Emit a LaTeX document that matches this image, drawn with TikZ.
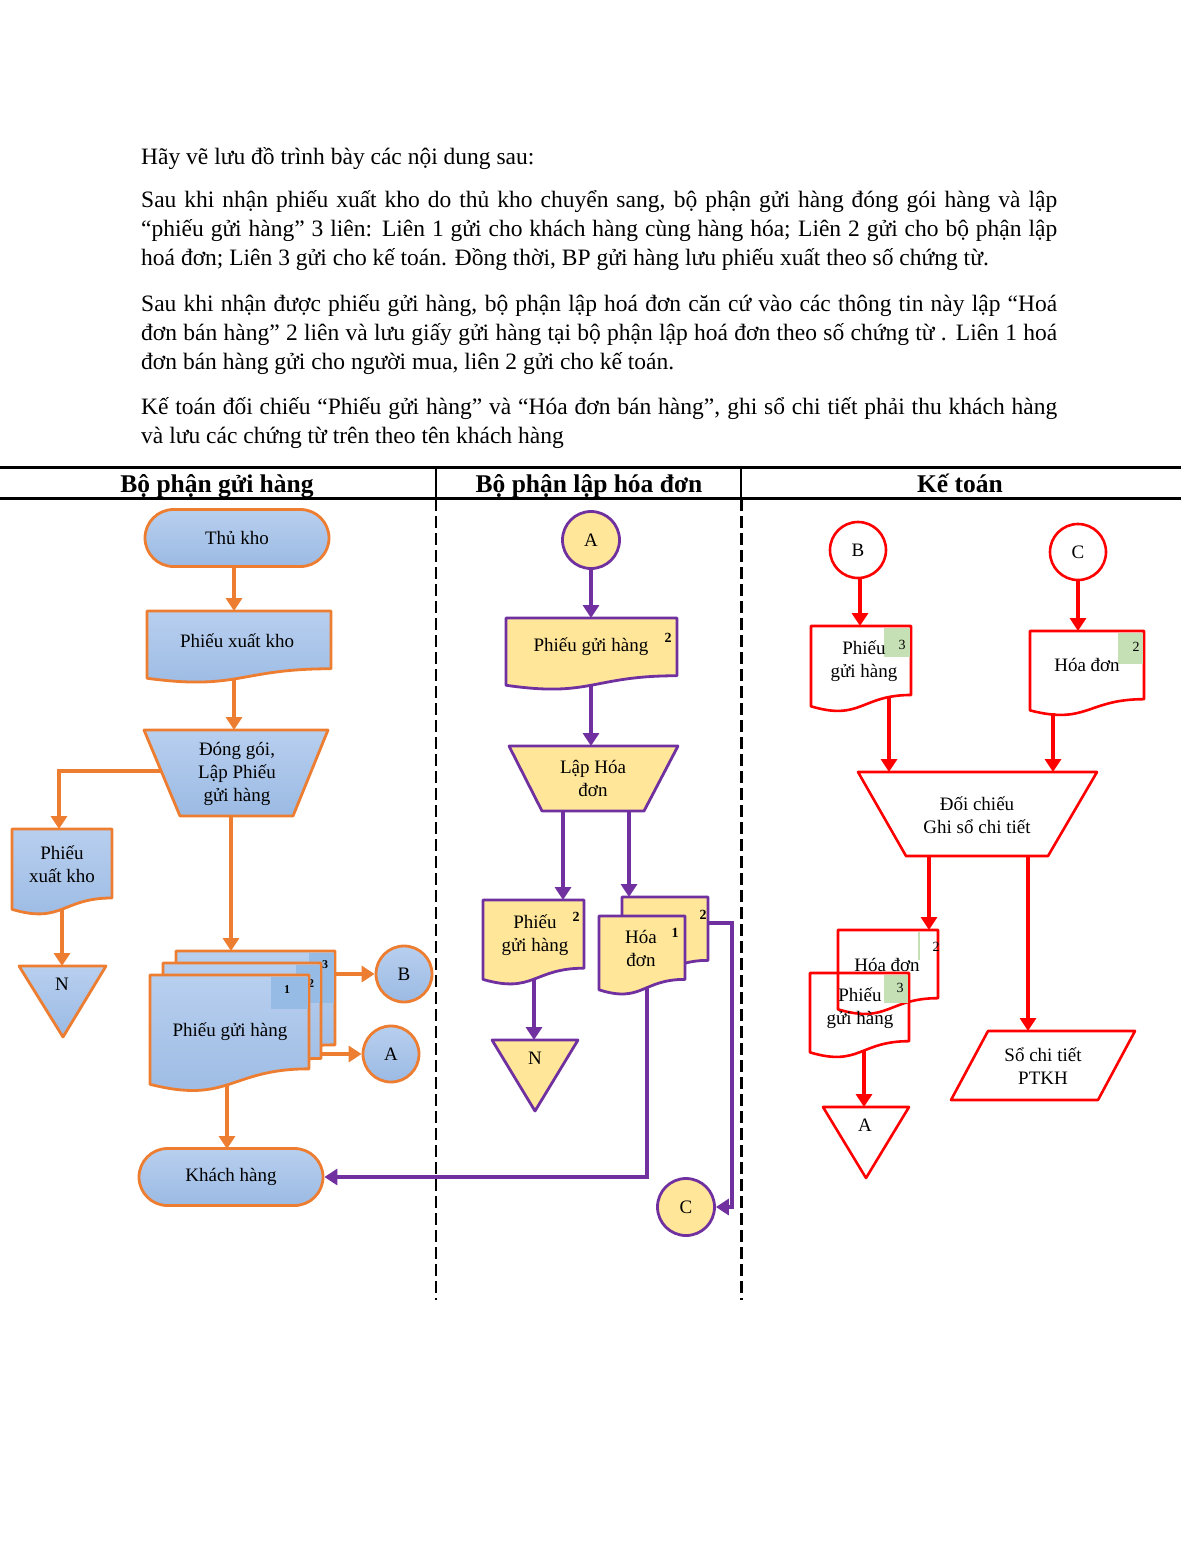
\documentclass[tikz,border=0pt]{standalone}
\usepackage{fontspec}
\setmainfont{Liberation Serif}
\usetikzlibrary{arrows.meta,calc,shapes.misc}
\definecolor{org}{RGB}{237,125,49}
\definecolor{bluT}{RGB}{184,207,239}
\definecolor{bluB}{RGB}{155,186,227}
\definecolor{bluSq}{RGB}{150,188,230}
\definecolor{pur}{RGB}{112,48,160}
\definecolor{yel}{RGB}{255,230,153}
\definecolor{grn}{RGB}{197,224,180}
\newcommand{\docshape}[5]{%
 \path[#1] (#2,#3) -- (#4,#3) -- (#4,{#3+0.802*#5}) .. controls ({(#2+#4)/2},{#3+0.802*#5}) and ({(#2+#4)/2},{#3+1.107*#5}) .. (#2,{#3+0.934*#5}) -- cycle;}
\tikzset{
 oshape/.style={draw=org, line width=2.8pt, top color=bluT, bottom color=bluB, line join=round},
 pshape/.style={draw=pur, line width=2.8pt, fill=yel, line join=round},
 rshape/.style={draw=red, line width=2.6pt, fill=white, line join=round},
 rshapenf/.style={draw=red, line width=2.6pt, line join=round},
 conn/.style={line width=3.4pt, -{Triangle[length=13pt,width=16pt]}},
 oarr/.style={conn, draw=org},
 parr/.style={conn, draw=pur},
 rarr/.style={conn, draw=red},
 lbl/.style={font=\fontsize{19}{23}\selectfont, align=center, inner sep=0pt},
 onum/.style={font=\fontsize{12}{14}\selectfont\bfseries, inner sep=0pt},
 pnum/.style={font=\fontsize{14}{16}\selectfont\bfseries, inner sep=0pt},
 rnum/.style={font=\fontsize{14}{16}\selectfont, inner sep=0pt},
 body/.style={font=\fontsize{23.5}{29}\selectfont, anchor=base west, inner sep=0pt},
 hdr/.style={font=\fontsize{25.5}{30}\selectfont\bfseries, inner sep=0pt, anchor=base},
 ocirc/.style={circle, oshape, minimum size=56pt, inner sep=0pt, font=\fontsize{19}{23}\selectfont},
 pcirc/.style={circle, pshape, minimum size=57pt, inner sep=0pt, font=\fontsize{19}{23}\selectfont},
 rcirc/.style={circle, rshape, minimum size=56pt, inner sep=0pt, font=\fontsize{19}{23}\selectfont},
 oterm/.style={rounded rectangle, oshape, minimum width=184pt, minimum height=57pt, inner sep=0pt, font=\fontsize{19}{23}\selectfont},
}
\begin{document}
\begin{tikzpicture}[x=1pt,y=-1pt]
\useasboundingbox (0,0) rectangle (1200,1553);
\fill[white] (0,0) rectangle (1200,1553);

% ---------- body text ----------
\node[body] (t1) at (141,164) {Hãy vẽ lưu đồ trình bày các nội dung sau:};
\node[body] (t2) at (141,207) {\makebox[916pt][s]{Sau khi nhận phiếu xuất kho do thủ kho chuyển sang, bộ phận gửi hàng đóng gói hàng và lập}};
\node[body] (t3) at (141,236) {\makebox[916pt][s]{“phiếu gửi hàng” 3 liên: Liên 1 gửi cho khách hàng cùng hàng hóa; Liên 2 gửi cho bộ phận lập}};
\node[body] (t4) at (141,265) {hoá đơn; Liên 3 gửi cho kế toán. Đồng thời, BP gửi hàng lưu phiếu xuất theo số chứng từ.};
\node[body] (t5) at (141,311) {\makebox[916pt][s]{Sau khi nhận được phiếu gửi hàng, bộ phận lập hoá đơn căn cứ vào các thông tin này lập “Hoá}};
\node[body] (t6) at (141,340) {\makebox[916pt][s]{đơn bán hàng” 2 liên và lưu giấy gửi hàng tại bộ phận lập hoá đơn theo số chứng từ . Liên 1 hoá}};
\node[body] (t7) at (141,369) {đơn bán hàng gửi cho người mua, liên 2 gửi cho kế toán.};
\node[body] (t8) at (141,414) {\makebox[916pt][s]{Kế toán đối chiếu “Phiếu gửi hàng”  và “Hóa đơn bán hàng”, ghi sổ chi tiết phải thu khách hàng}};
\node[body] (t9) at (141,443) {và lưu các chứng từ trên theo tên khách hàng};

% ---------- header ----------
\draw[line width=3pt] (0,467) -- (1181,467);
\draw[line width=3pt] (0,498) -- (1181,498);
\draw[line width=2pt] (436,467) -- (436,498);
\draw[line width=2pt] (741,467) -- (741,498);
\node[hdr] (h1) at (217,492) {Bộ phận gửi hàng};
\node[hdr] (h2) at (589,492) {Bộ phận lập hóa đơn};
\node[hdr] (h3) at (960,492) {Kế toán};
\draw[line width=1.6pt, dash pattern=on 12pt off 5pt] (436,499) -- (436,1300);
\draw[line width=3pt, dash pattern=on 12pt off 5pt] (741,499) -- (741,1300);

% ---------- left lane ----------
\node[oterm] (thukho) at (237,538) {Thủ kho};
\docshape{oshape}{147}{611}{331}{72}
\node[lbl] (pxkL) at (237,641) {Phiếu xuất kho};
\path[oshape] (144,730) -- (328,730) -- (293,816) -- (180,816) -- cycle;
\node[lbl] (dgL) at (237,774) {Đóng gói,\\Lập Phiếu\\gửi hàng};
\docshape{oshape}{12}{829}{112}{86}
\node[lbl] (sxkL) at (62,864) {Phiếu\\xuất kho};
\path[oshape] (19,966) -- (106,966) -- (63,1037) -- cycle;
\node[lbl] (nL) at (62,984) {N};
% stacked phieu gui hang
\docshape{oshape}{176}{951}{335}{117}
\fill[bluSq] (309,952.5) rectangle (333.6,1003);
\node[onum] (n3) at (325,965) {3};
\docshape{oshape}{163}{963}{321}{119}
\fill[bluSq] (296,964.5) rectangle (319.6,1003);
\node[onum] (n2) at (311,984) {2};
\docshape{oshape}{150}{975}{309}{117}
\fill[bluSq] (271,976.5) rectangle (307.6,1009);
\node[onum] (n1) at (287,990) {1};
\node[lbl] (ghL) at (230,1032) {Phiếu gửi hàng};
\node[ocirc] (Bl) at (404,974) {B};
\node[ocirc] (Al) at (391,1054) {A};
\node[oterm] (khach) at (231,1177) {Khách hàng};

\coordinate (thB) at (234,566);
\coordinate (pxkT) at (234,611);
\coordinate (pxkB) at (234,678);
\coordinate (dgT) at (234,730);
\coordinate (dgS) at (161,771);
\coordinate (sxkT) at (59,829);
\coordinate (sxkB) at (62,909);
\coordinate (nT) at (62,966);
\coordinate (dgB) at (231,816);
\coordinate (gh3T) at (231,951);
\coordinate (gh3R) at (335,974);
\coordinate (gh2R) at (321,1054);
\coordinate (gh1B) at (227,1084);
\coordinate (khT) at (227,1149);

% ---------- middle lane ----------
\node[pcirc] (Am) at (591,540) {A};
\docshape{pshape}{506}{618}{677}{72}
\node[lbl] (pgh2L) at (591,647) {Phiếu gửi hàng};
\node[pnum] (m2a) at (668,638) {2};
\path[pshape] (509,746) -- (678,746) -- (644,811) -- (542,811) -- cycle;
\node[lbl] (lhdL) at (593,778) {Lập Hóa\\đơn};
\docshape{pshape}{483}{900}{584}{85}
\node[lbl] (pgh2bL) at (535,935) {Phiếu\\gửi hàng};
\node[pnum] (m2b) at (576,917) {2};
\path[pshape] (492,1040) -- (578,1040) -- (535,1111) -- cycle;
\node[lbl] (n2L) at (535,1058) {N};
\docshape{pshape}{622}{897}{708}{79}
\node[pnum] (m2c) at (703,915) {2};
\docshape{pshape}{599}{916}{685}{79}
\node[lbl] (hdL) at (641,948) {Hóa\\đơn};
\node[pnum] (m1) at (675,933) {1};
\node[pcirc] (Cm) at (686,1207) {C};

\coordinate (pgT) at (591,618);
\coordinate (pgB) at (591,685);
\coordinate (lhT) at (591,746);
\coordinate (lhB1) at (563,811);
\coordinate (lhB2) at (629,811);
\coordinate (pg2T) at (563,900);
\coordinate (hd2T) at (629,897);
\coordinate (pg2B) at (534,979);
\coordinate (n2T) at (534,1040);
\coordinate (hd2R) at (708,923);
\coordinate (hdBend) at (732,923);
\coordinate (hd1B) at (647,988);

% ---------- right lane ----------
\node[rcirc] (Br) at (858,550) {B};
\node[rcirc] (Cr) at (1078,552) {C};
\docshape{rshape}{811}{626}{911}{86}
\fill[grn] (884,627.5) rectangle (909.7,657);
\node[lbl] (rpgL) at (864,661) {Phiếu\\gửi hàng};
\node[rnum] (r3a) at (902,645) {3};
\docshape{rshape}{1030}{631}{1144}{85}
\fill[grn] (1118,632.5) rectangle (1142.7,664);
\node[lbl] (rhdL) at (1087,665) {Hóa đơn};
\node[rnum] (r2a) at (1136,647) {2};
\path[rshape] (858,772) -- (1097,772) -- (1048,856) -- (906,856) -- cycle;
\node[lbl] (dcL) at (977,815) {Đối chiếu\\Ghi sổ chi tiết};
\docshape{rshape}{838}{930}{938}{85}
\draw[grn, line width=1.5pt] (919,931.5) -- (919,960);
\node[lbl] (rhd2L) at (887,965) {Hóa đơn};
\node[rnum] (r2b) at (936,947) {2};
\docshape{rshapenf}{810}{973}{909}{85}
\fill[grn] (884,974.5) rectangle (907.7,1003);
\node[lbl] (rpg2L) at (860,1008) {Phiếu\\gửi hàng};
\node[rnum] (r3b) at (900,988) {3};
\path[rshape] (823,1107) -- (909,1107) -- (866,1178) -- cycle;
\node[lbl] (rAL) at (865,1125) {A};
\path[rshape] (988,1031) -- (1135,1031) -- (1098,1100) -- (951,1100) -- cycle;
\node[lbl] (sctL) at (1043,1066) {Sổ chi tiết\\PTKH};

\coordinate (BrS) at (860,577.5);
\coordinate (CrS) at (1078,579.5);
\coordinate (rpgT) at (860,626);
\coordinate (rhdT) at (1078,631);
\coordinate (rpgB) at (889,697);
\coordinate (rhdB) at (1053,713);
\coordinate (dcT1) at (889,772);
\coordinate (dcT2) at (1053,772);
\coordinate (dcB1) at (929,856);
\coordinate (dcB2) at (1028,856);
\coordinate (rhd2T) at (929,930);
\coordinate (sctT) at (1028,1031);
\coordinate (rpg2B) at (864,1051);
\coordinate (rAT) at (864,1107);

% ---------- connectors ----------
\draw[oarr] (thB) -- (pxkT);
\draw[oarr] (pxkB) -- (dgT);
\draw[oarr] (dgS) -| (sxkT);
\draw[oarr] (sxkB) -- (nT);
\draw[oarr] (dgB) -- (gh3T);
\draw[oarr] (gh3R) -- (Bl);
\draw[oarr] (gh2R) -- (Al);
\draw[oarr] (gh1B) -- (khT);

\draw[parr] (Am) -- (pgT);
\draw[parr] (pgB) -- (lhT);
\draw[parr] (lhB1) -- (pg2T);
\draw[parr] (lhB2) -- (hd2T);
\draw[parr] (pg2B) -- (n2T);
\draw[parr] (hd2R) -- (hdBend) |- (Cm.east);
\draw[parr] (hd1B) |- (khach.east);

\draw[rarr] (BrS) -- (rpgT);
\draw[rarr] (CrS) -- (rhdT);
\draw[rarr] (rpgB) -- (dcT1);
\draw[rarr] (rhdB) -- (dcT2);
\draw[rarr] (dcB1) -- (rhd2T);
\draw[rarr] (dcB2) -- (sctT);
\draw[rarr] (rpg2B) -- (rAT);
\end{tikzpicture}
\end{document}
